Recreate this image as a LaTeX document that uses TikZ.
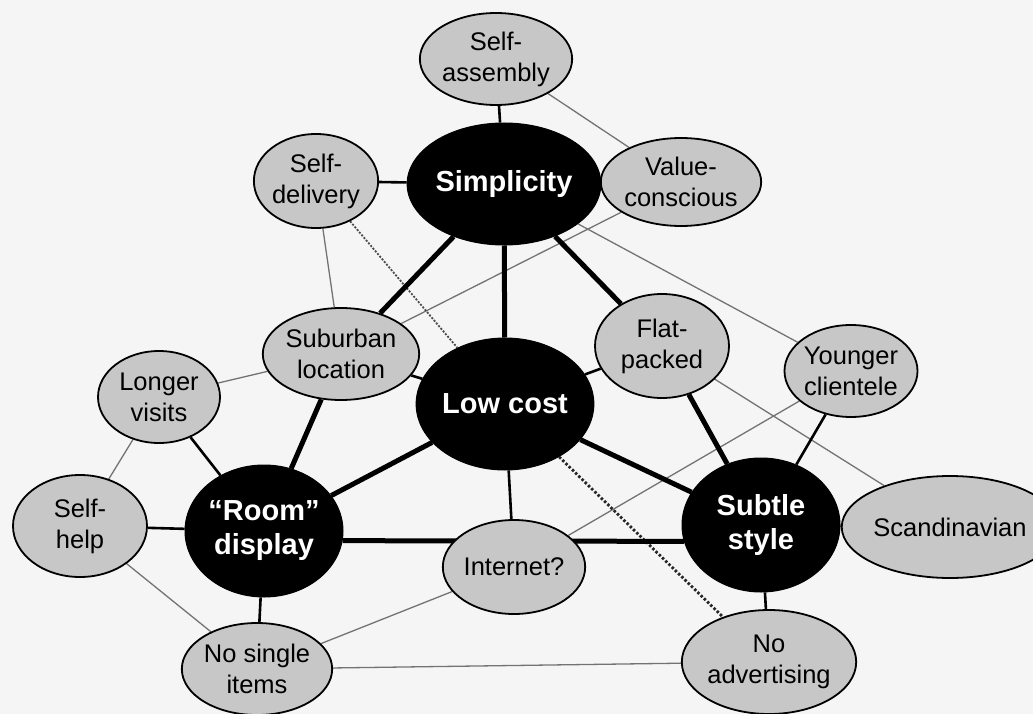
\documentclass[tikz,border=0pt]{standalone}
\usepackage{fontspec}
\setmainfont{Liberation Sans}
\usetikzlibrary{shapes.geometric}
\pgfdeclarelayer{bg}
\pgfsetlayers{bg,main}
\begin{document}
\begin{tikzpicture}[x=1pt,y=-1pt,
  core/.style={ellipse, fill=black, draw=black, line width=1pt, text=white,
    font=\fontsize{29}{34}\selectfont\bfseries, align=center, inner sep=0pt},
  sub/.style={ellipse, fill=black!22, draw=black, line width=1.8pt, text=black,
    font=\fontsize{25.5}{31}\selectfont, align=center, inner sep=0pt},
  thickline/.style={line width=5pt, black},
  medline/.style={line width=2.6pt, black},
  thinline/.style={line width=1.3pt, black!55},
  dotline/.style={line width=2.8pt, black!85, dash pattern=on 2.5pt off 2pt},
  dotthin/.style={line width=1.8pt, black!70, dash pattern=on 2pt off 1.5pt}]
\useasboundingbox (0,0) rectangle (1033,714);
\begin{pgfonlayer}{bg}
\fill[black!4] (0,0) rectangle (1033,714);
\end{pgfonlayer}

% core nodes
\node[core, minimum width=158pt, minimum height=122pt] (simp) at (504,184) {Simplicity};
\node[core, minimum width=160pt, minimum height=132pt] (low) at (505,404) {Low cost};
\node[core, minimum width=158pt, minimum height=132pt] (room) at (264,531) {“Room”\\display};
\node[core, minimum width=158pt, minimum height=134pt] (subtle) at (761,525) {Subtle\\style};

% secondary nodes
\node[sub, minimum width=122pt, minimum height=92pt] (sa) at (496,59) {Self-\\assembly};
\node[sub, minimum width=122pt, minimum height=88pt] (vc) at (681,182) {Value-\\conscious};
\node[sub, minimum width=122pt, minimum height=94pt] (sd) at (316,181) {Self-\\delivery};
\node[sub, minimum width=122pt, minimum height=92pt] (subl) at (341,354) {Suburban\\location};
\node[sub, minimum width=134pt, minimum height=104pt] (flat) at (662,346) {Flat-\\packed};
\node[sub, minimum width=122pt, minimum height=92pt] (young) at (851,371) {Younger\\clientele};
\node[sub, minimum width=122pt, minimum height=92pt] (longer) at (159,397) {Longer\\visits};
\node[sub, minimum width=134pt, minimum height=102pt] (help) at (80,526) {Self-\\help};
\node[sub, minimum width=164pt, minimum height=102pt] (scan) at (950,527) {Scandinavian};
\node[sub, minimum width=124pt, minimum height=94pt] (net) at (514,567) {Internet?};
\node[sub, minimum width=120pt, minimum height=92pt] (nsi) at (257,669) {No single\\items};
\node[sub, minimum width=152pt, minimum height=104pt] (nadv) at (769,662) {No\\advertising};

\begin{pgfonlayer}{bg}
% thin grey links
\draw[thinline] (sa) -- (vc);
\draw[thinline] (sd) -- (subl);
\draw[thinline] (vc) -- (subl);
\draw[thinline] (simp) -- (young);
\draw[thinline] (subl) -- (longer);
\draw[thinline] (longer) -- (help);
\draw[thinline] (help) -- (nsi);
\draw[thinline] (nsi) -- (net);
\draw[thinline] (nsi) -- (nadv);
\draw[thinline] (flat) -- (scan);
\draw[thinline] (young) -- (net);
\draw[dotthin] (sd) -- (low);
\draw[dotline] (low) -- (nadv);
% medium links
\draw[medline] (sa) -- (simp);
\draw[medline] (sd) -- (simp);
\draw[medline] (simp) -- (vc);
\draw[medline] (subl) -- (low);
\draw[medline] (flat) -- (low);
\draw[medline] (longer) -- (room);
\draw[medline] (help) -- (room);
\draw[medline] (room) -- (nsi);
\draw[medline] (low) -- (net);
\draw[medline] (subtle) -- (scan);
\draw[medline] (subtle) -- (nadv);
\draw[medline] (young) -- (subtle);
% thick links
\draw[thickline] (simp) -- (low);
\draw[thickline] (simp) -- (subl);
\draw[thickline] (subl) -- (room);
\draw[thickline] (simp) -- (flat);
\draw[thickline] (flat) -- (subtle);
\draw[thickline] (room) -- (low);
\draw[thickline] (low) -- (subtle);
\draw[thickline] (room.-7.5) -- (subtle.192);
\end{pgfonlayer}
\end{tikzpicture}
\end{document}
